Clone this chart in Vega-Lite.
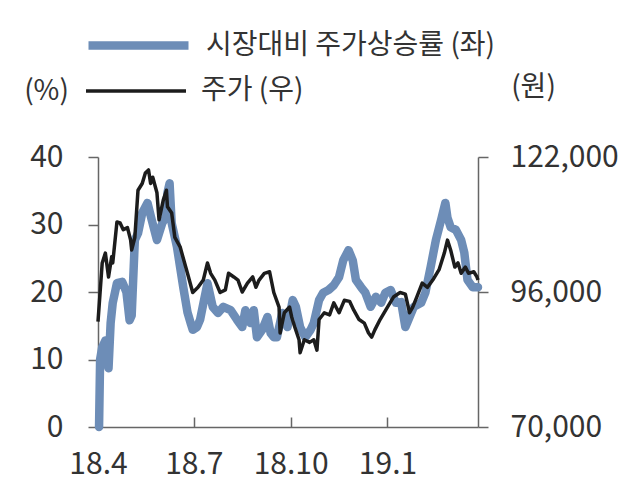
{
  "$schema": "https://vega.github.io/schema/vega-lite/v6.json",
  "width": 380,
  "height": 270,
  "autosize": {"type": "none"},
  "padding": {"left": 98, "top": 157, "right": 162, "bottom": 67},
  "background": "white",
  "config": {
    "view": {"stroke": null},
    "font": "Noto Sans CJK KR",
    "axis": {
      "labelFont": "Noto Sans CJK KR",
      "labelFontSize": 30,
      "labelColor": "#333333",
      "domainColor": "#666666",
      "tickColor": "#666666",
      "domainWidth": 1.5,
      "tickWidth": 1.5,
      "grid": false,
      "titleFont": "Noto Sans CJK KR",
      "titleFontSize": 28,
      "titleFontWeight": "normal",
      "titleColor": "#333333"
    },
    "legend": {
      "labelFont": "Noto Sans CJK KR",
      "labelFontSize": 28,
      "labelColor": "#333333",
      "labelLimit": 600
    }
  },
  "datasets": {
    "blue": [
      {"date": "2018-04-02", "pct": 0},
      {"date": "2018-04-03", "pct": 10},
      {"date": "2018-04-05", "pct": 11.8},
      {"date": "2018-04-08", "pct": 12.8},
      {"date": "2018-04-11", "pct": 8.7},
      {"date": "2018-04-13", "pct": 15.4},
      {"date": "2018-04-15", "pct": 18.4},
      {"date": "2018-04-19", "pct": 21.3},
      {"date": "2018-04-24", "pct": 21.5},
      {"date": "2018-04-28", "pct": 20},
      {"date": "2018-05-01", "pct": 15.8},
      {"date": "2018-05-03", "pct": 16.5},
      {"date": "2018-05-06", "pct": 27.7},
      {"date": "2018-05-09", "pct": 28.7},
      {"date": "2018-05-13", "pct": 31.7},
      {"date": "2018-05-18", "pct": 33.2},
      {"date": "2018-05-22", "pct": 30.7},
      {"date": "2018-05-27", "pct": 27.7},
      {"date": "2018-06-01", "pct": 30.2},
      {"date": "2018-06-04", "pct": 31},
      {"date": "2018-06-06", "pct": 34.7},
      {"date": "2018-06-08", "pct": 36.1},
      {"date": "2018-06-10", "pct": 30.2},
      {"date": "2018-06-15", "pct": 26.7},
      {"date": "2018-06-18", "pct": 23.7},
      {"date": "2018-06-21", "pct": 20.7},
      {"date": "2018-06-25", "pct": 17},
      {"date": "2018-06-28", "pct": 15.4},
      {"date": "2018-06-30", "pct": 14.4},
      {"date": "2018-07-04", "pct": 14.8},
      {"date": "2018-07-07", "pct": 15.9},
      {"date": "2018-07-11", "pct": 19},
      {"date": "2018-07-14", "pct": 21.3},
      {"date": "2018-07-19", "pct": 17.8},
      {"date": "2018-07-24", "pct": 16.9},
      {"date": "2018-07-29", "pct": 17.8},
      {"date": "2018-08-05", "pct": 17.3},
      {"date": "2018-08-11", "pct": 15.9},
      {"date": "2018-08-16", "pct": 14.8},
      {"date": "2018-08-19", "pct": 17.3},
      {"date": "2018-08-24", "pct": 15.4},
      {"date": "2018-08-27", "pct": 17.3},
      {"date": "2018-08-30", "pct": 13.3},
      {"date": "2018-09-04", "pct": 14.4},
      {"date": "2018-09-09", "pct": 16.3},
      {"date": "2018-09-12", "pct": 13.9},
      {"date": "2018-09-15", "pct": 13.3},
      {"date": "2018-09-18", "pct": 13.3},
      {"date": "2018-09-23", "pct": 16.9},
      {"date": "2018-09-28", "pct": 14.8},
      {"date": "2018-10-03", "pct": 18.8},
      {"date": "2018-10-06", "pct": 17.8},
      {"date": "2018-10-10", "pct": 14.8},
      {"date": "2018-10-15", "pct": 13.3},
      {"date": "2018-10-20", "pct": 14.4},
      {"date": "2018-10-23", "pct": 15.4},
      {"date": "2018-10-28", "pct": 18.8},
      {"date": "2018-11-01", "pct": 19.9},
      {"date": "2018-11-06", "pct": 20.3},
      {"date": "2018-11-11", "pct": 21},
      {"date": "2018-11-16", "pct": 22.2},
      {"date": "2018-11-20", "pct": 24.7},
      {"date": "2018-11-25", "pct": 26.2},
      {"date": "2018-11-29", "pct": 24.7},
      {"date": "2018-12-02", "pct": 21.8},
      {"date": "2018-12-07", "pct": 20.7},
      {"date": "2018-12-11", "pct": 19.9},
      {"date": "2018-12-16", "pct": 17.8},
      {"date": "2018-12-21", "pct": 19.3},
      {"date": "2018-12-26", "pct": 18.4},
      {"date": "2018-12-30", "pct": 19.9},
      {"date": "2019-01-04", "pct": 20.3},
      {"date": "2019-01-09", "pct": 18.4},
      {"date": "2019-01-14", "pct": 18.5},
      {"date": "2019-01-18", "pct": 14.8},
      {"date": "2019-01-21", "pct": 15.9},
      {"date": "2019-01-26", "pct": 17.8},
      {"date": "2019-02-02", "pct": 18.4},
      {"date": "2019-02-06", "pct": 19.9},
      {"date": "2019-02-11", "pct": 23.7},
      {"date": "2019-02-16", "pct": 27.7},
      {"date": "2019-02-21", "pct": 30.7},
      {"date": "2019-02-25", "pct": 33.2},
      {"date": "2019-02-27", "pct": 31},
      {"date": "2019-03-02", "pct": 29.6},
      {"date": "2019-03-07", "pct": 29.2},
      {"date": "2019-03-12", "pct": 27.7},
      {"date": "2019-03-15", "pct": 25.8},
      {"date": "2019-03-18", "pct": 21.8},
      {"date": "2019-03-23", "pct": 20.7},
      {"date": "2019-03-28", "pct": 20.7}
    ],
    "black": [
      {"date": "2018-04-01", "price": 90300},
      {"date": "2018-04-05", "price": 101600},
      {"date": "2018-04-08", "price": 103500},
      {"date": "2018-04-11", "price": 98900},
      {"date": "2018-04-14", "price": 102800},
      {"date": "2018-04-15", "price": 101600},
      {"date": "2018-04-19", "price": 109500},
      {"date": "2018-04-22", "price": 109300},
      {"date": "2018-04-25", "price": 108000},
      {"date": "2018-04-29", "price": 108400},
      {"date": "2018-05-02", "price": 106000},
      {"date": "2018-05-03", "price": 104100},
      {"date": "2018-05-06", "price": 106500},
      {"date": "2018-05-09", "price": 115600},
      {"date": "2018-05-13", "price": 116900},
      {"date": "2018-05-16", "price": 118900},
      {"date": "2018-05-19", "price": 119500},
      {"date": "2018-05-21", "price": 116900},
      {"date": "2018-05-23", "price": 118100},
      {"date": "2018-05-27", "price": 115100},
      {"date": "2018-05-29", "price": 109900},
      {"date": "2018-06-02", "price": 113700},
      {"date": "2018-06-05", "price": 115600},
      {"date": "2018-06-06", "price": 112400},
      {"date": "2018-06-10", "price": 111200},
      {"date": "2018-06-13", "price": 106500},
      {"date": "2018-06-18", "price": 104700},
      {"date": "2018-06-25", "price": 99600},
      {"date": "2018-06-30", "price": 95900},
      {"date": "2018-07-05", "price": 96900},
      {"date": "2018-07-10", "price": 98300},
      {"date": "2018-07-14", "price": 101600},
      {"date": "2018-07-17", "price": 99600},
      {"date": "2018-07-21", "price": 98300},
      {"date": "2018-07-26", "price": 95900},
      {"date": "2018-07-31", "price": 96400},
      {"date": "2018-08-03", "price": 99600},
      {"date": "2018-08-08", "price": 98900},
      {"date": "2018-08-12", "price": 98300},
      {"date": "2018-08-16", "price": 96000},
      {"date": "2018-08-21", "price": 97700},
      {"date": "2018-08-26", "price": 98900},
      {"date": "2018-08-29", "price": 96900},
      {"date": "2018-09-01", "price": 98300},
      {"date": "2018-09-06", "price": 99600},
      {"date": "2018-09-11", "price": 99900},
      {"date": "2018-09-15", "price": 95900},
      {"date": "2018-09-20", "price": 93100},
      {"date": "2018-09-21", "price": 88100},
      {"date": "2018-09-25", "price": 92000},
      {"date": "2018-09-30", "price": 93100},
      {"date": "2018-10-02", "price": 91200},
      {"date": "2018-10-05", "price": 89200},
      {"date": "2018-10-09", "price": 86800},
      {"date": "2018-10-10", "price": 84300},
      {"date": "2018-10-14", "price": 86800},
      {"date": "2018-10-19", "price": 86300},
      {"date": "2018-10-23", "price": 86800},
      {"date": "2018-10-26", "price": 84800},
      {"date": "2018-10-28", "price": 90700},
      {"date": "2018-11-02", "price": 92000},
      {"date": "2018-11-07", "price": 91600},
      {"date": "2018-11-11", "price": 93900},
      {"date": "2018-11-16", "price": 92000},
      {"date": "2018-11-21", "price": 94400},
      {"date": "2018-11-26", "price": 94200},
      {"date": "2018-11-30", "price": 92500},
      {"date": "2018-12-05", "price": 90700},
      {"date": "2018-12-10", "price": 90000},
      {"date": "2018-12-14", "price": 88100},
      {"date": "2018-12-17", "price": 87300},
      {"date": "2018-12-20", "price": 88700},
      {"date": "2018-12-25", "price": 90700},
      {"date": "2019-01-01", "price": 93100},
      {"date": "2019-01-07", "price": 95100},
      {"date": "2019-01-13", "price": 95900},
      {"date": "2019-01-18", "price": 95600},
      {"date": "2019-01-22", "price": 92000},
      {"date": "2019-01-25", "price": 93100},
      {"date": "2019-01-29", "price": 95100},
      {"date": "2019-02-03", "price": 97700},
      {"date": "2019-02-08", "price": 96900},
      {"date": "2019-02-13", "price": 98300},
      {"date": "2019-02-19", "price": 100300},
      {"date": "2019-02-24", "price": 103500},
      {"date": "2019-02-27", "price": 106000},
      {"date": "2019-03-02", "price": 104100},
      {"date": "2019-03-06", "price": 100800},
      {"date": "2019-03-09", "price": 101600},
      {"date": "2019-03-12", "price": 99600},
      {"date": "2019-03-16", "price": 100800},
      {"date": "2019-03-19", "price": 99600},
      {"date": "2019-03-24", "price": 99900},
      {"date": "2019-03-27", "price": 98900},
      {"date": "2019-03-28", "price": 98300}
    ]
  },
  "encoding": {
    "x": {
      "field": "date",
      "type": "temporal",
      "scale": {
        "type": "utc",
        "domain": [
          {"year": 2018, "month": 4, "date": 1, "utc": true},
          {"year": 2019, "month": 3, "date": 28, "utc": true}
        ]
      },
      "axis": {
        "title": null,
        "values": [
          {"year": 2018, "month": 4, "date": 1, "utc": true},
          {"year": 2018, "month": 7, "date": 1, "utc": true},
          {"year": 2018, "month": 10, "date": 1, "utc": true},
          {"year": 2019, "month": 1, "date": 1, "utc": true}
        ],
        "format": "%y.%-m",
        "tickSize": -10,
        "labelPadding": 32,
        "labelFlush": false
      }
    }
  },
  "layer": [
    {
      "data": {"name": "blue"},
      "mark": {"type": "line", "strokeWidth": 8.5, "strokeCap": "round", "strokeJoin": "round"},
      "encoding": {
        "y": {
          "field": "pct",
          "type": "quantitative",
          "scale": {"domain": [0, 40], "nice": false, "zero": false},
          "axis": {
            "orient": "left",
            "values": [0, 10, 20, 30, 40],
            "tickSize": 10,
            "labelPadding": 25,
            "title": "(%)",
            "titleAngle": 0,
            "titleAlign": "center",
            "titleBaseline": "middle",
            "titleX": -52,
            "titleY": -66
          }
        },
        "color": {
          "datum": "시장대비 주가상승률 (좌)",
          "type": "nominal",
          "scale": {"domain": ["시장대비 주가상승률 (좌)"], "range": ["#6d8db7"]},
          "legend": {
            "title": null,
            "orient": "none",
            "legendX": -14,
            "legendY": -166,
            "symbolType": "stroke",
            "symbolSize": 10000,
            "symbolStrokeWidth": 8.5,
            "labelOffset": 13
          }
        }
      }
    },
    {
      "data": {"name": "black"},
      "mark": {"type": "line", "strokeWidth": 3.5, "strokeJoin": "round"},
      "encoding": {
        "y": {
          "field": "price",
          "type": "quantitative",
          "scale": {"domain": [70000, 122000], "nice": false, "zero": false},
          "axis": {
            "orient": "right",
            "values": [70000, 96000, 122000],
            "labelExpr": "format(datum.value, ',')",
            "tickSize": 10,
            "labelPadding": 22,
            "title": "(원)",
            "titleAngle": 0,
            "titleAlign": "center",
            "titleBaseline": "middle",
            "titleX": 55,
            "titleY": -70
          }
        },
        "color": {
          "datum": "주가 (우)",
          "type": "nominal",
          "scale": {"domain": ["주가 (우)"], "range": ["#1c1c1c"]},
          "legend": {
            "title": null,
            "orient": "none",
            "legendX": -14,
            "legendY": -118,
            "symbolType": "stroke",
            "symbolSize": 10000,
            "symbolStrokeWidth": 3.5,
            "labelOffset": 13
          }
        }
      }
    }
  ],
  "resolve": {
    "scale": {"y": "independent", "color": "independent"},
    "axis": {"y": "independent"},
    "legend": {"color": "independent"}
  }
}
